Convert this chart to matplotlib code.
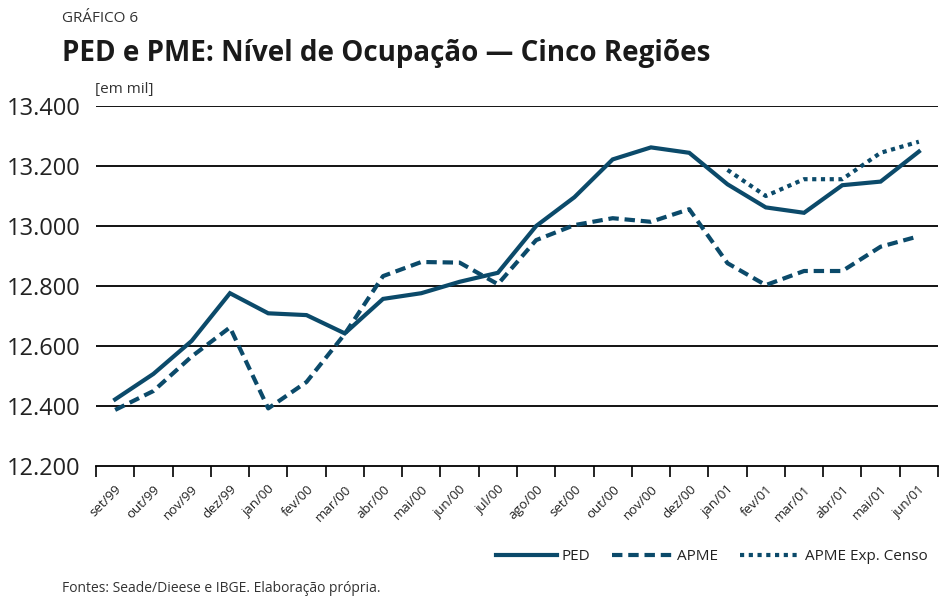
import matplotlib.pyplot as plt
from matplotlib.ticker import FuncFormatter

plt.rcParams['font.family'] = ['Liberation Sans Narrow', 'Open Sans', 'DejaVu Sans']

meses = ['set/99', 'out/99', 'nov/99', 'dez/99', 'jan/00', 'fev/00', 'mar/00',
         'abr/00', 'mai/00', 'jun/00', 'jul/00', 'ago/00', 'set/00', 'out/00',
         'nov/00', 'dez/00', 'jan/01', 'fev/01', 'mar/01', 'abr/01', 'mai/01',
         'jun/01']

ped = [12422, 12507, 12617, 12776, 12709, 12703, 12642, 12757, 12776, 12814,
       12844, 13000, 13096, 13222, 13262, 13244, 13139, 13062, 13044, 13136,
       13148, 13248]
apme = [12387, 12450, 12565, 12662, 12392, 12480, 12640, 12833, 12880, 12878,
        12806, 12953, 13003, 13026, 13014, 13056, 12876, 12803, 12850, 12850,
        12931, 12966]
censo_meses = ['jan/01', 'fev/01', 'mar/01', 'abr/01', 'mai/01', 'jun/01']
apme_censo = [13187, 13100, 13156, 13156, 13244, 13281]

cor = '#0b4a6a'

fig = plt.figure(figsize=(9.39, 5.98), dpi=100)
ax = fig.add_axes([96/939, 1 - 466/598, 842/939, 360/598])

x = list(range(len(meses)))
xc = [meses.index(m) for m in censo_meses]

ax.plot(x, ped, color=cor, lw=3.0, solid_joinstyle='miter', label='PED')
ax.plot(x, apme, color=cor, lw=3.0, dashes=(2.5, 1.4), label='APME')
ax.plot(xc, apme_censo, color=cor, lw=3.0, dashes=(1.0, 1.1), label='APME Exp. Censo')

ax.set_ylim(12200, 13400)
ax.set_xlim(-0.5, len(meses) - 0.5)
ax.set_yticks([12200, 12400, 12600, 12800, 13000, 13200, 13400])
ax.yaxis.set_major_formatter(FuncFormatter(lambda v, p: f'{int(v):,}'.replace(',', '.')))
ax.tick_params(axis='y', length=0, labelsize=17, pad=11, labelcolor='#222222')
for v in [12400, 12600, 12800, 13000, 13200, 13400]:
    ax.axhline(v, color='black', lw=1.3, zorder=0)

ax.set_xticks(x)
ax.set_xticklabels(meses, rotation=45, ha='right', rotation_mode='anchor',
                   fontsize=9.5, color='#222222')
ax.set_xticks([i - 0.5 for i in range(len(meses) + 1)], minor=True)
ax.tick_params(axis='x', which='major', length=0, pad=12)
ax.tick_params(axis='x', which='minor', length=8, width=1.2, color='black')

for s in ['top', 'left', 'right']:
    ax.spines[s].set_visible(False)
ax.spines['bottom'].set_linewidth(1.3)

fig.text(62/939, 1 - 18/598, 'GRÁFICO 6', fontsize=11, color='#333333', va='center')
fig.text(62/939, 1 - 53/598, 'PED e PME: Nível de Ocupação — Cinco Regiões',
         fontsize=20, fontweight='bold', color='#1a1a1a', va='center')
fig.text(95/939, 1 - 90/598, '[em mil]', fontsize=11, color='#333333', va='center')
fig.text(62/939, 1 - 589/598, 'Fontes: Seade/Dieese e IBGE. Elaboração própria.',
         fontsize=10, color='#333333', va='center')

fig.legend(loc='center right', bbox_to_anchor=(942/939, 1 - 557/598), ncol=3,
           frameon=False, fontsize=11, handlelength=4.0, handletextpad=0.3,
           columnspacing=1.4, labelcolor='#222222')

fig.savefig('out.png', dpi=100)
